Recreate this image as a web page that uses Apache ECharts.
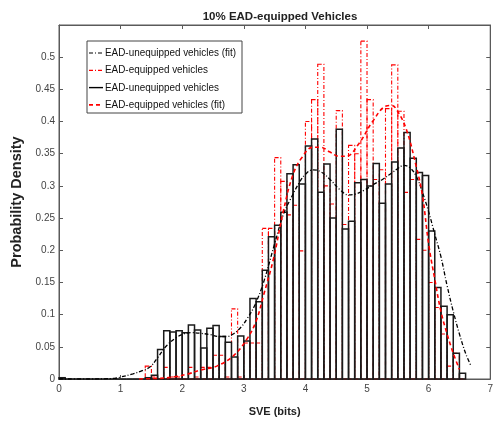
<!DOCTYPE html>
<html><head><meta charset="utf-8">
<script src="https://cdn.jsdelivr.net/npm/echarts@6/dist/echarts.min.js"></script>
<style>html,body{margin:0;padding:0;background:#fff}#c{width:496px;height:422px}</style>
</head><body><div id="c"></div>
<script>
// ---- data ----
const binWidth = 0.1;
const binLeft = [0.0,0.1,0.2,0.3,0.4,0.5,0.6,0.7,0.8,0.9,1.0,1.1,1.2,1.3,1.4,1.5,1.6,1.7,1.8,1.9,2.0,2.1,2.2,2.3,2.4,2.5,2.6,2.7,2.8,2.9,3.0,3.1,3.2,3.3,3.4,3.5,3.6,3.7,3.8,3.9,4.0,4.1,4.2,4.3,4.4,4.5,4.6,4.7,4.8,4.9,5.0,5.1,5.2,5.3,5.4,5.5,5.6,5.7,5.8,5.9,6.0,6.1,6.2,6.3,6.4,6.5];
const unequippedHist = [0.002,0,0,0,0,0,0,0,0,0,0,0,0,0,
  0.002,0.006,0.046,0.075,0.073,0.075,0.072,0.084,0.076,0.048,0.079,0.083,0.066,0.057,0.034,0.067,0.059,0.125,0.12,0.169,0.221,0.239,0.259,0.319,0.333,0.303,0.362,0.373,0.29,0.334,0.25,0.388,0.233,0.245,0.305,0.31,0.30,0.335,0.273,0.303,0.337,0.359,0.383,0.343,0.321,0.316,0.23,0.142,0.113,0.10,0.04,0.009];
const equippedHist = [null,null,null,null,null,null,null,null,null,null,null,null,null,null,
  0.02,0.003,0.0,0.018,0.003,0.003,0.0,0.018,0.003,0.018,0.018,0.037,0.037,0.003,0.109,0.003,0.056,0.056,0.056,0.234,0.234,0.344,0.307,0.255,0.27,0.199,0.40,0.434,0.489,0.30,0.272,0.417,0.24,0.363,0.35,0.525,0.434,0.31,0.325,0.42,0.488,0.416,0.29,0.31,0.217,0.2,0.15,0.111,0.07,0.02,0.04,0.0];
const unequippedFitX = [0,0.5,0.9,1.0,1.2,1.35,1.48,1.6,1.75,1.9,2.02,2.15,2.3,2.45,2.6,2.72,2.83,2.95,3.05,3.18,3.32,3.5,3.64,3.75,3.9,4.0,4.12,4.25,4.4,4.55,4.7,4.8,4.95,5.1,5.25,5.4,5.5,5.6,5.7,5.8,5.9,6.0,6.1,6.2,6.3,6.4,6.5,6.6,6.68];
const unequippedFitY = [0,0,0.001,0.003,0.008,0.013,0.019,0.033,0.052,0.064,0.07,0.072,0.071,0.069,0.066,0.066,0.07,0.08,0.093,0.115,0.15,0.21,0.255,0.278,0.305,0.318,0.325,0.322,0.31,0.295,0.286,0.287,0.293,0.302,0.31,0.32,0.327,0.332,0.328,0.315,0.29,0.26,0.225,0.19,0.145,0.105,0.07,0.04,0.022];
const equippedFitX = [1.3,1.6,1.85,2.1,2.3,2.56,2.83,3.05,3.2,3.32,3.48,3.64,3.8,3.95,4.12,4.25,4.39,4.55,4.66,4.87,5.09,5.31,5.4,5.47,5.63,5.8,5.9,6.0,6.1,6.2,6.3,6.4,6.5];
const equippedFitY = [0,0.001,0.003,0.008,0.014,0.02,0.036,0.062,0.09,0.13,0.186,0.26,0.318,0.345,0.36,0.36,0.353,0.346,0.346,0.366,0.40,0.424,0.425,0.42,0.39,0.33,0.285,0.21,0.155,0.105,0.07,0.04,0.015];
const legendNames = ['EAD-unequipped vehicles (fit)','EAD-equipped vehicles','EAD-unequipped vehicles','EAD-equipped vehicles (fit)'];
const titleText = '10% EAD-equipped Vehicles';
const xName = 'SVE (bits)';
const yName = 'Probability Density';

// ---- chart ----
const chart = echarts.init(document.getElementById('c'), null, {renderer:'canvas'});
const FONT = 'Liberation Sans, Arial, Helvetica, sans-serif';
function histRender(stroke, fill, dash, lw) {
  return function (params, api) {
    const x0 = api.value(0), h = api.value(1);
    if (h == null || isNaN(h)) return null;
    const p0 = api.coord([x0, h]);
    const p1 = api.coord([x0 + binWidth, 0]);
    return {type:'rect', shape:{x:p0[0], y:p0[1], width:p1[0]-p0[0], height:p1[1]-p0[1]},
      style:{fill:fill, stroke:stroke, lineWidth:lw, lineDash:dash}};
  };
}
const axisColor = '#5a5a5a';
const legX = 87, legY = 41, legW = 155, legH = 72, rowH = 17.3;
const legendStyles = [
  {stroke:'#000', dash:[4,2,1,2], lw:1.2},
  {stroke:'#ff0000', dash:[4,2,1,2], lw:1.2},
  {stroke:'#000', dash:null, lw:1.4},
  {stroke:'#ff0000', dash:[4,3], lw:1.6}
];
const graphic = [{type:'rect', z:100, shape:{x:legX, y:legY, width:legW, height:legH}, style:{fill:'#fff', stroke:'#444', lineWidth:1}}];
legendNames.forEach((n, i) => {
  const y = legY + 12 + i * rowH;
  const s = legendStyles[i];
  graphic.push({type:'line', z:101, shape:{x1:legX+2, y1:y, x2:legX+16, y2:y}, style:{stroke:s.stroke, lineWidth:s.lw, lineDash:s.dash}});
  graphic.push({type:'text', z:101, x:legX+18, y:y, scaleX:0.9, style:{text:n, fill:'#111', font:'11px ' + FONT, verticalAlign:'middle', align:'left'}});
});

const baseAxis = {
  axisLine:{show:true, onZero:false, lineStyle:{color:axisColor, width:1}},
  axisTick:{show:true, inside:true, length:4, lineStyle:{color:axisColor}},
  splitLine:{show:false}
};
const option = {
  animation:false,
  backgroundColor:'#fff',
  title:{text:titleText, left:275, top:6, textAlign:'center', textStyle:{fontFamily:FONT, fontSize:11.5, fontWeight:'bold', color:'#222'}},
  grid:{left:59, right:5, top:25, bottom:42, containLabel:false, show:true, borderColor:axisColor, borderWidth:1, backgroundColor:'transparent'},
  xAxis:[
    Object.assign({type:'value', min:0, max:7, interval:1, position:'bottom', name:xName, nameLocation:'middle', nameGap:27,
     nameTextStyle:{fontFamily:FONT, fontSize:11, fontWeight:'bold', color:'#222'},
     axisLabel:{fontFamily:FONT, fontSize:10, color:'#444', margin:5}}, baseAxis),
    Object.assign({type:'value', min:0, max:7, interval:1, position:'top', axisLabel:{show:false}}, baseAxis)
  ],
  yAxis:[
    Object.assign({type:'value', min:0, max:0.55, interval:0.05, position:'left', name:yName, nameLocation:'middle', nameGap:31, nameRotate:90,
     nameTextStyle:{fontFamily:FONT, fontSize:14.5, fontWeight:'bold', color:'#222'},
     axisLabel:{fontFamily:FONT, fontSize:10, color:'#444', margin:4, formatter:v => v > 0.5001 ? '' : String(+v.toFixed(2))}}, baseAxis),
    Object.assign({type:'value', min:0, max:0.55, interval:0.05, position:'right', axisLabel:{show:false}}, baseAxis)
  ],
  series:[
    {name:legendNames[1], type:'custom', renderItem:histRender('#ff0000', 'none', [4,2,1,2], 1.1), z:2,
     data:binLeft.map((x,i)=>[x, equippedHist[i] == null ? '-' : equippedHist[i]]), encode:{x:0, y:1}},
    {name:legendNames[2], type:'custom', renderItem:histRender('#1a1a1a', 'none', null, 1.5), z:3,
     data:binLeft.map((x,i)=>[x, unequippedHist[i]]), encode:{x:0, y:1}},
    {name:legendNames[0], type:'line', smooth:0.4, showSymbol:false, z:4,
     lineStyle:{color:'#000', width:1.3, type:[4,2,1,2]},
     data:unequippedFitX.map((x,i)=>[x, unequippedFitY[i]])},
    {name:legendNames[3], type:'line', smooth:0.4, showSymbol:false, z:5, xAxisIndex:1, yAxisIndex:1,
     lineStyle:{color:'#ff0000', width:1.6, type:[4,3]},
     data:equippedFitX.map((x,i)=>[x, equippedFitY[i]])}
  ],
  graphic:graphic
};
chart.setOption(option);
</script></body></html>
